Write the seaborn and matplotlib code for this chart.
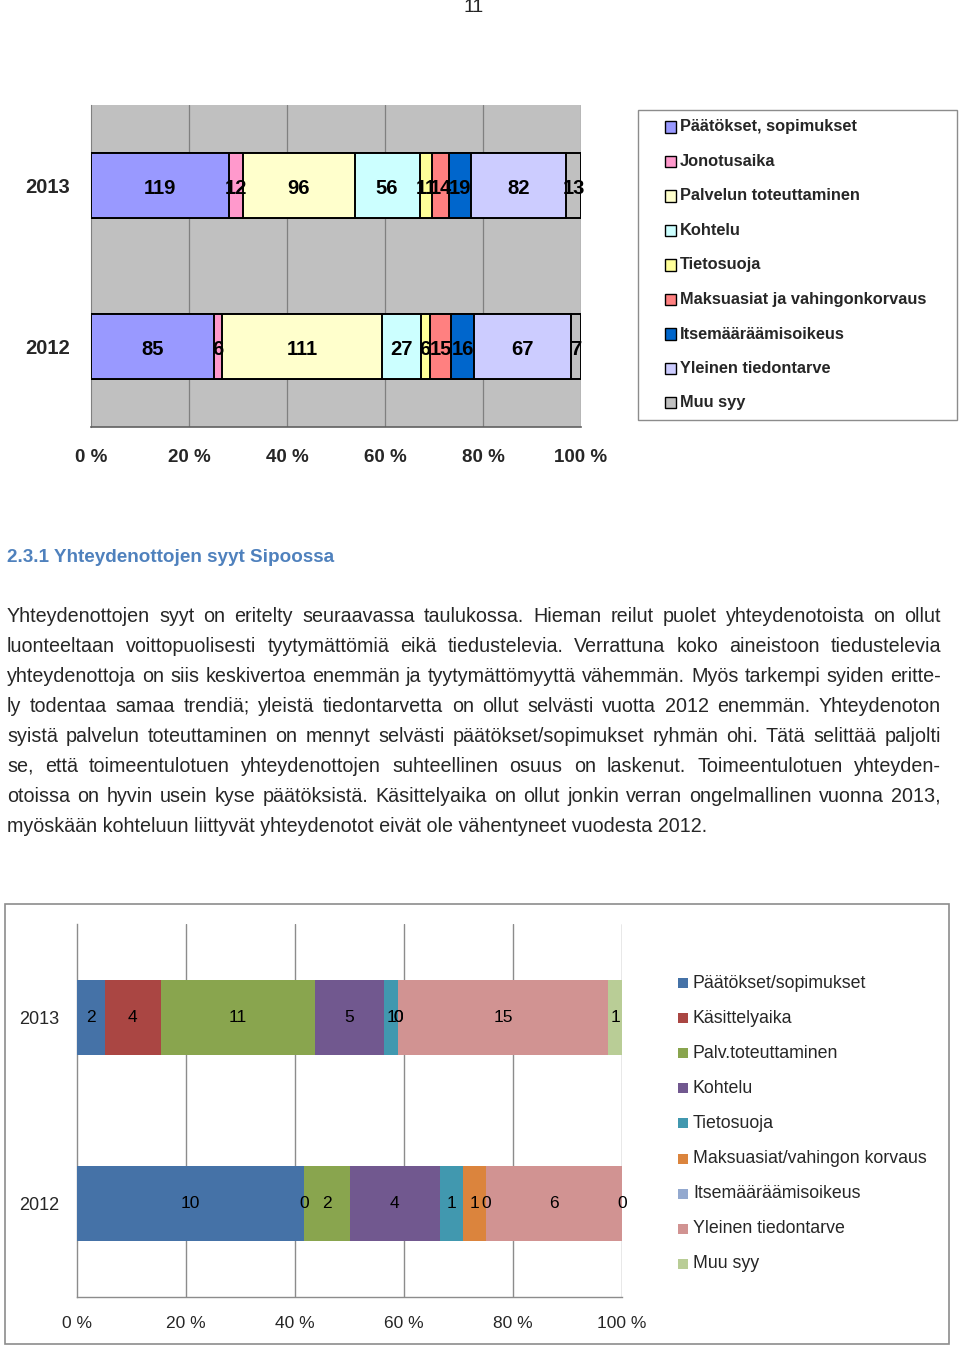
import numpy as np
import pandas as pd
import matplotlib
matplotlib.use("Agg")
import matplotlib.pyplot as plt
from matplotlib.patches import Rectangle
import seaborn as sns

# --- data ---------------------------------------------------------------
years = ["2013", "2012"]

cats1 = ["Päätökset, sopimukset", "Jonotusaika", "Palvelun toteuttaminen",
         "Kohtelu", "Tietosuoja", "Maksuasiat ja vahingonkorvaus",
         "Itsemääräämisoikeus", "Yleinen tiedontarve", "Muu syy"]
top_2013 = [119, 12, 96, 56, 11, 14, 19, 82, 13]
top_2012 = [85, 6, 111, 27, 6, 15, 16, 67, 7]
colors1 = ["#9999ff", "#ff99cc", "#ffffcc", "#ccffff", "#ffff99",
           "#ff8080", "#0066cc", "#ccccff", "#c0c0c0"]

cats2 = ["Päätökset/sopimukset", "Käsittelyaika", "Palv.toteuttaminen",
         "Kohtelu", "Tietosuoja", "Maksuasiat/vahingon korvaus",
         "Itsemääräämisoikeus", "Yleinen tiedontarve", "Muu syy"]
sipoo_2013 = [2, 4, 11, 5, 1, 0, 0, 15, 1]
sipoo_2012 = [10, 0, 2, 4, 1, 1, 0, 6, 0]
colors2 = ["#4572a7", "#aa4643", "#89a54e", "#71588f", "#4198af",
           "#db843d", "#93a9cf", "#d19392", "#b9cd96"]

pct_ticks = [0, 20, 40, 60, 80, 100]

heading = "2.3.1 Yhteydenottojen syyt Sipoossa"
para = [
    "Yhteydenottojen syyt on eritelty seuraavassa taulukossa. Hieman reilut puolet yhteydenotoista on ollut",
    "luonteeltaan voittopuolisesti tyytymättömiä eikä tiedustelevia. Verrattuna koko aineistoon tiedustelevia",
    "yhteydenottoja on siis keskivertoa enemmän ja tyytymättömyyttä vähemmän. Myös tarkempi syiden eritte-",
    "ly todentaa samaa trendiä; yleistä tiedontarvetta on ollut selvästi vuotta 2012 enemmän. Yhteydenoton",
    "syistä palvelun toteuttaminen on mennyt selvästi päätökset/sopimukset ryhmän ohi. Tätä selittää paljolti",
    "se, että toimeentulotuen yhteydenottojen suhteellinen osuus on laskenut. Toimeentulotuen yhteyden-",
    "otoissa on hyvin usein kyse päätöksistä. Käsittelyaika on ollut jonkin verran ongelmallinen vuonna 2013,",
    "myöskään kohteluun liittyvät yhteydenotot eivät ole vähentyneet vuodesta 2012.",
]

# --- setup --------------------------------------------------------------
sns.set_style("white")
plt.rcParams["font.family"] = ["Liberation Sans", "DejaVu Sans"]

W, H = 960, 1348
fig = plt.figure(figsize=(W / 100, H / 100), dpi=100)


def box(x0, y0, x1, y1):
    return [x0 / W, 1 - y1 / H, (x1 - x0) / W, (y1 - y0) / H]


def stacked(ax, counts, colors, edge, lw, fs, weight, dy=0.0):
    pct = counts / counts.sum() * 100
    cum = pct.cumsum()
    # draw cumulative bars from the longest to the shortest
    for cat in reversed(list(counts.index)):
        sns.barplot(x=cum.loc[cat].values, y=years, orient="h",
                    color=colors[cat], width=0.4, saturation=1,
                    errorbar=None, edgecolor=edge, linewidth=lw,
                    ax=ax, zorder=3)
    for cat in counts.index:
        for j, yr in enumerate(years):
            ax.text(cum.loc[cat, yr] - pct.loc[cat, yr] / 2, j + dy,
                    str(counts.loc[cat, yr]), ha="center", va="center",
                    fontsize=fs, fontweight=weight, color="black", zorder=5)
    ax.set_xlim(0, 100)
    ax.set_ylim(1.5, -0.5)
    ax.set_xticks(pct_ticks)
    ax.set_xticklabels([f"{t} %" for t in pct_ticks])
    ax.set_yticks([-0.5, 0.5, 1.5], minor=True)
    ax.set_xlabel("")
    ax.set_ylabel("")


# --- chart 1 (whole material) -----------------------------------------
df1 = pd.DataFrame({"2013": top_2013, "2012": top_2012}, index=cats1)
ax1 = fig.add_axes(box(91, 105, 581, 427))
ax1.set_facecolor("#c0c0c0")
for t in pct_ticks[1:]:
    ax1.axvline(t, color="#808080", lw=0.9, zorder=1)
stacked(ax1, df1, dict(zip(cats1, colors1)), "black", 1.4, 14.5, "bold", 0.02)
for s in ["top", "right"]:
    ax1.spines[s].set_visible(False)
ax1.spines["bottom"].set_color("#606060")
ax1.spines["bottom"].set_linewidth(1.2)
ax1.spines["left"].set_color("#808080")
ax1.tick_params(axis="x", length=7, color="#808080", pad=9, labelsize=13.5)
ax1.tick_params(axis="y", which="major", length=0, pad=15, labelsize=14.5)
ax1.tick_params(axis="y", which="minor", length=7, color="#808080")
for lab in ax1.get_xticklabels() + ax1.get_yticklabels():
    lab.set_fontweight("bold")

# legend 1
fig.add_artist(Rectangle((638 / W, 1 - 420 / H), 319 / W, 310 / H,
                         transform=fig.transFigure, fill=False,
                         edgecolor="#8c8c8c", lw=1))
for i, (c, col) in enumerate(zip(cats1, colors1)):
    yc = 127 + i * 34.5
    fig.add_artist(Rectangle((665 / W, 1 - (yc + 5.5) / H), 11 / W, 11 / H,
                             transform=fig.transFigure, facecolor=col,
                             edgecolor="black", lw=1))
    fig.text(680 / W, 1 - yc / H, c, ha="left", va="center",
             fontsize=11.8, fontweight="bold")

# --- page text ----------------------------------------------------------
fig.text(474 / W, 1 - 8 / H, "11", ha="center", va="center", fontsize=14)
fig.text(7 / W, 1 - 557 / H, heading, ha="left", va="center",
         fontsize=13.6, fontweight="bold", color="#4f81bd")

renderer = fig.canvas.get_renderer()
fs_para = 14.2
for k, line in enumerate(para):
    base = 1 - (622 + 30 * k) / H
    words = line.split(" ")
    if k == len(para) - 1:
        fig.text(7 / W, base, line, ha="left", va="baseline", fontsize=fs_para)
        continue
    arts = [fig.text(0, base, w, ha="left", va="baseline", fontsize=fs_para)
            for w in words]
    widths = [a.get_window_extent(renderer).width for a in arts]
    gap = (941 - 7 - sum(widths)) / (len(words) - 1)
    x = 7
    for a, w in zip(arts, widths):
        a.set_x(x / W)
        x += w + gap

# --- chart 2 (Sipoo) ------------------------------------------------------
fig.add_artist(Rectangle((5 / W, 1 - 1344 / H), 944 / W, 440 / H,
                         transform=fig.transFigure, fill=False,
                         edgecolor="#8c8c8c", lw=1.2))
df2 = pd.DataFrame({"2013": sipoo_2013, "2012": sipoo_2012}, index=cats2)
ax2 = fig.add_axes(box(77, 924, 622, 1297))
ax2.set_facecolor("white")
for t in pct_ticks[1:]:
    ax2.axvline(t, color="#8c8c8c", lw=1, zorder=1)
stacked(ax2, df2, dict(zip(cats2, colors2)), "none", 0, 12.5, "normal")
for s in ["top", "right"]:
    ax2.spines[s].set_visible(False)
for s in ["bottom", "left"]:
    ax2.spines[s].set_color("#8c8c8c")
    ax2.spines[s].set_linewidth(1)
ax2.tick_params(axis="x", length=6, color="#8c8c8c", pad=8, labelsize=12.5)
ax2.tick_params(axis="y", which="major", length=0, pad=13, labelsize=13)

ax2.tick_params(axis="y", which="minor", length=5, color="#8c8c8c")

# legend 2
for i, (c, col) in enumerate(zip(cats2, colors2)):
    yc = 983 + i * 35.1
    fig.add_artist(Rectangle((678 / W, 1 - (yc + 5) / H), 10 / W, 10 / H,
                             transform=fig.transFigure, facecolor=col,
                             edgecolor="none"))
    fig.text(693 / W, 1 - yc / H, c, ha="left", va="center", fontsize=12.8)

fig.savefig("out.png", dpi=100)
